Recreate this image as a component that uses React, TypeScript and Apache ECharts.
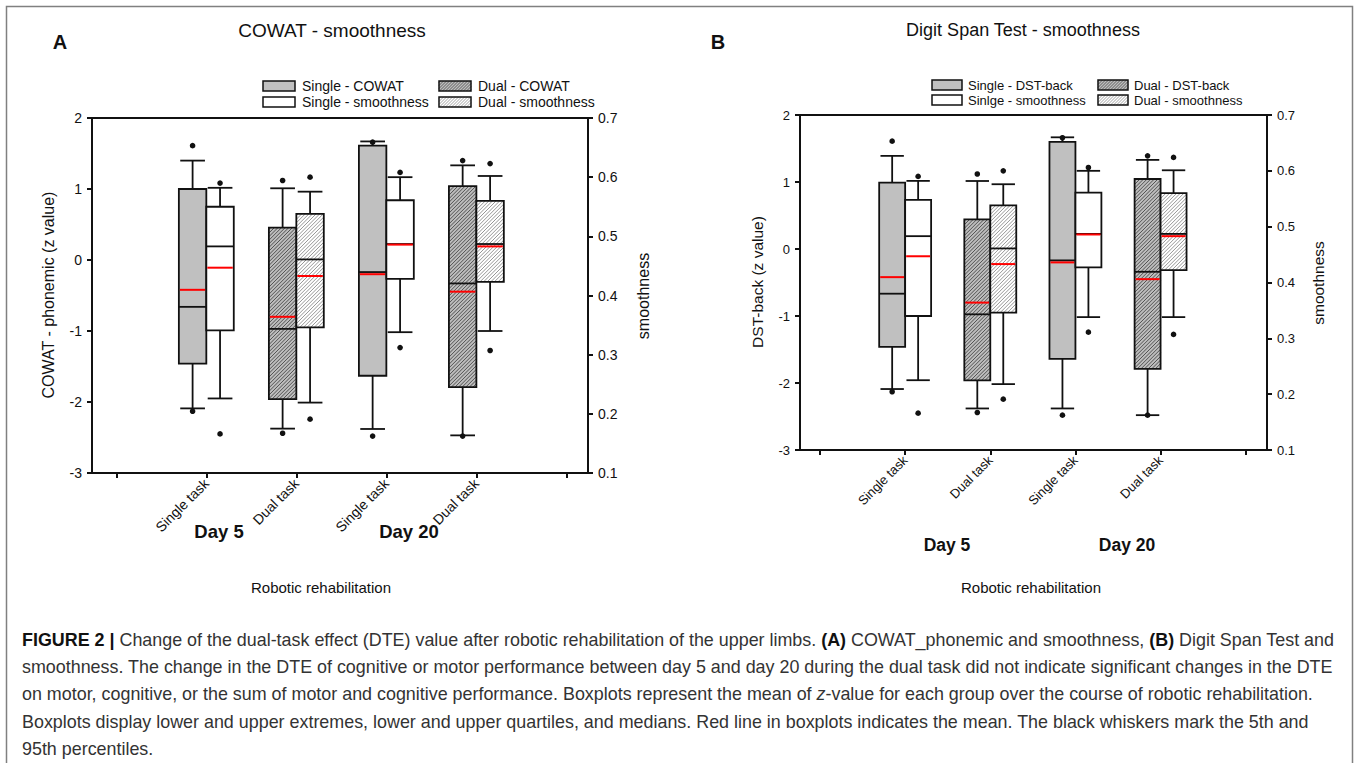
import React, { useEffect, useRef } from "react";
import * as echarts from "echarts";

// ---------- data ----------
const taskLabels = ["Single task", "Dual task", "Single task", "Dual task"];
const dayLabels = ["Day 5", "Day 20"];
const titlesAB = ["COWAT - smoothness", "Digit Span Test - smoothness"];
const leftAxisNames = ["COWAT - phonemic (z value)", "DST-back (z value)"];
const rightAxisName = "smoothness";
const xAxisName = "Robotic rehabilitation";
const legendA = ["Single - COWAT", "Single - smoothness", "Dual - COWAT", "Dual - smoothness"];
const legendB = ["Single - DST-back", "Sinlge - smoothness", "Dual - DST-back", "Dual - smoothness"];

// each row: [whiskerLow, q1, median, q3, whiskerHigh, mean, outlierLow, outlierHigh]; rows = Day 5, Day 20
const A_singleCowat = [
  [-2.09, -1.46, -0.66, 1.0, 1.4, -0.42, -2.13, 1.61],
  [-2.38, -1.63, -0.17, 1.61, 1.67, -0.2, -2.48, 1.66],
];
const A_singleSmooth = [
  [0.226, 0.341, 0.483, 0.55, 0.582, 0.447, 0.166, 0.59],
  [0.338, 0.428, 0.487, 0.561, 0.6, 0.486, 0.312, 0.608],
];
const A_dualCowat = [
  [-2.375, -1.96, -0.97, 0.455, 1.01, -0.8, -2.44, 1.12],
  [-2.47, -1.79, -0.33, 1.04, 1.333, -0.446, -2.48, 1.4],
];
const A_dualSmooth = [
  [0.219, 0.346, 0.461, 0.538, 0.5755, 0.433, 0.191, 0.6],
  [0.34, 0.423, 0.487, 0.56, 0.602, 0.483, 0.307, 0.623],
];

const B_singleDst = [
  [-2.09, -1.46, -0.667, 0.99, 1.39, -0.42, -2.13, 1.61],
  [-2.38, -1.64, -0.17, 1.6, 1.667, -0.2, -2.48, 1.66],
];
const B_singleSmooth = [
  [0.225, 0.34, 0.483, 0.548, 0.582, 0.447, 0.166, 0.59],
  [0.338, 0.427, 0.487, 0.561, 0.6, 0.486, 0.311, 0.606],
];
const B_dualDst = [
  [-2.38, -1.96, -0.975, 0.443, 1.015, -0.8, -2.44, 1.12],
  [-2.48, -1.79, -0.34, 1.045, 1.33, -0.45, -2.48, 1.39],
];
const B_dualSmooth = [
  [0.218, 0.346, 0.461, 0.538, 0.576, 0.433, 0.191, 0.6],
  [0.338, 0.422, 0.487, 0.56, 0.601, 0.483, 0.307, 0.624],
];

const captionLines = [
  "{b|FIGURE 2 |} Change of the dual-task effect (DTE) value after robotic rehabilitation of the upper limbs. {b|(A)} COWAT_phonemic and smoothness, {b|(B)} Digit Span Test and",
  "smoothness. The change in the DTE of cognitive or motor performance between day 5 and day 20 during the dual task did not indicate significant changes in the DTE",
  "on motor, cognitive, or the sum of motor and cognitive performance. Boxplots represent the mean of {i|z}-value for each group over the course of robotic rehabilitation.",
  "Boxplots display lower and upper extremes, lower and upper quartiles, and medians. Red line in boxplots indicates the mean. The black whiskers mark the 5th and",
  "95th percentiles.",
];

// ---------- styling ----------
const FONT = "'Liberation Sans', Arial, Helvetica, sans-serif";
const INK = "#111";
const BOX_W = 0.305;
const STY = {
  singleCog: { fill: "#c0c0c0", hatch: null as string | null },
  singleSmooth: { fill: "#ffffff", hatch: null as string | null },
  dualCog: { fill: "#bdbdbd", hatch: "#454545" },
  dualSmooth: { fill: "#ffffff", hatch: "#8a8a8a" },
};

const singleX = taskLabels.map((t, i) => (t === "Single task" ? i + 1 : -1)).filter((v) => v > 0);
const dualX = taskLabels.map((t, i) => (t === "Dual task" ? i + 1 : -1)).filter((v) => v > 0);

function hatch(x0: number, y0: number, x1: number, y1: number, step: number, color: string, lw: number) {
  const out: any[] = [];
  for (let c = x0 + y0 + step / 2; c < x1 + y1; c += step) {
    const xa = Math.max(x0, c - y1);
    const xb = Math.min(x1, c - y0);
    if (xb - xa < 0.3) continue;
    out.push({
      type: "line",
      silent: true,
      shape: { x1: xa, y1: c - xa, x2: xb, y2: c - xb },
      style: { stroke: color, lineWidth: lw },
    });
  }
  return out;
}

function boxSeries(name: string, stats: number[][], xs: number[], xAxisIndex: number, yAxisIndex: number, side: number, sty: { fill: string; hatch: string | null }) {
  return {
    type: "custom",
    name,
    coordinateSystem: "cartesian2d",
    xAxisIndex,
    yAxisIndex,
    encode: { x: 0, y: [1, 2, 3, 4, 5, 6, 7, 8] },
    data: stats.map((s, k) => [xs[k], ...s]),
    renderItem: (params: any, api: any) => {
      const xv = api.value(0);
      const P = (i: number) => api.coord([xv, api.value(i)]);
      const cx = P(3)[0];
      const w = api.size([BOX_W, 0])[0];
      const x0 = side < 0 ? cx - w : cx;
      const x1 = x0 + w;
      const mx = (x0 + x1) / 2;
      const [wl, q1, med, q3, wh, mean, ol, oh] = [1, 2, 3, 4, 5, 6, 7, 8].map((i) => P(i)[1]);
      const cap = w * 0.45;
      const k = { stroke: INK, lineWidth: 1.8 };
      const children: any[] = [
        { type: "line", shape: { x1: mx, y1: q3, x2: mx, y2: wh }, style: { ...k } },
        { type: "line", shape: { x1: mx, y1: q1, x2: mx, y2: wl }, style: { ...k } },
        { type: "line", shape: { x1: mx - cap, y1: wh, x2: mx + cap, y2: wh }, style: { ...k } },
        { type: "line", shape: { x1: mx - cap, y1: wl, x2: mx + cap, y2: wl }, style: { ...k } },
        { type: "rect", shape: { x: x0, y: q3, width: w, height: q1 - q3 }, style: { fill: sty.fill } },
        ...(sty.hatch ? hatch(x0, q3, x1, q1, 3.6, sty.hatch, 0.9) : []),
        { type: "rect", shape: { x: x0, y: q3, width: w, height: q1 - q3 }, style: { fill: "none", stroke: INK, lineWidth: 1.8 } },
        { type: "line", shape: { x1: x0, y1: med, x2: x1, y2: med }, style: { ...k } },
        { type: "line", shape: { x1: x0 + 1, y1: mean, x2: x1 - 1, y2: mean }, style: { stroke: "#ff0000", lineWidth: 2 } },
        { type: "circle", shape: { cx: mx, cy: ol, r: 2.8 }, style: { fill: INK } },
        { type: "circle", shape: { cx: mx, cy: oh, r: 2.8 }, style: { fill: INK } },
      ];
      return { type: "group", children };
    },
  };
}

function legend(x0: number, y0: number, col2: number, sw: number, sh: number, rowGap: number, tGap: number, fs: number, labels: string[]) {
  const stys = [STY.singleCog, STY.singleSmooth, STY.dualCog, STY.dualSmooth];
  const out: any[] = [];
  stys.forEach((s, i) => {
    const x = i < 2 ? x0 : col2;
    const y = y0 + (i % 2) * rowGap;
    out.push({ type: "rect", shape: { x, y, width: sw, height: sh }, style: { fill: s.fill } });
    if (s.hatch) out.push(...hatch(x, y, x + sw, y + sh, 3, s.hatch, 0.8));
    out.push({ type: "rect", shape: { x, y, width: sw, height: sh }, style: { fill: "none", stroke: INK, lineWidth: 1.5 } });
    out.push({
      type: "text",
      x: x + sw + tGap,
      y: y + sh / 2,
      style: { text: labels[i], fontSize: fs, fontFamily: FONT, fill: INK, align: "left", verticalAlign: "middle" },
    });
  });
  return out;
}

function txt(x: number, y: number, text: string, fs: number, opts: any = {}) {
  return {
    type: "text",
    x,
    y,
    rotation: opts.rotation || 0,
    style: {
      text,
      fontSize: fs,
      fontFamily: FONT,
      fontWeight: opts.bold ? "bold" : "normal",
      fill: opts.fill || INK,
      align: opts.align || "center",
      verticalAlign: "middle",
    },
  };
}

const panels = [
  { grid: { left: 92, top: 118, width: 496, height: 355 }, xMin: -0.27, xMax: 5.24, fs: 14 },
  { grid: { left: 800, top: 115, width: 467, height: 335 }, xMin: -0.235, xMax: 5.25, fs: 13 },
];

function buildOption() {
  const axisLineStyle = { color: INK, width: 2 };
  const xAxis = panels.map((p, i) => ({
    type: "value",
    gridIndex: i,
    min: p.xMin,
    max: p.xMax,
    axisLine: { show: true, onZero: false, lineStyle: axisLineStyle },
    axisTick: { show: true, customValues: [0, 1, 2, 3, 4, 5], length: 5, lineStyle: axisLineStyle },
    axisLabel: {
      customValues: [1, 2, 3, 4],
      formatter: (v: number) => taskLabels[Math.round(v) - 1] || "",
      rotate: 45,
      fontSize: p.fs,
      fontFamily: FONT,
      color: INK,
      margin: 8,
    },
    splitLine: { show: false },
  }));
  const yAxis: any[] = [];
  panels.forEach((p, i) => {
    yAxis.push({
      type: "value",
      gridIndex: i,
      position: "left",
      min: -3,
      max: 2,
      interval: 1,
      axisLine: { show: true, onZero: false, lineStyle: axisLineStyle },
      axisTick: { show: true, length: 5, lineStyle: axisLineStyle },
      axisLabel: { fontSize: p.fs, fontFamily: FONT, color: INK, margin: 10 },
      splitLine: { show: false },
    });
    yAxis.push({
      type: "value",
      gridIndex: i,
      position: "right",
      min: 0.1,
      max: 0.7,
      interval: 0.1,
      axisLine: { show: true, onZero: false, lineStyle: axisLineStyle },
      axisTick: { show: true, length: 5, lineStyle: axisLineStyle },
      axisLabel: { fontSize: p.fs, fontFamily: FONT, color: INK, margin: 10, formatter: (v: number) => v.toFixed(1) },
      splitLine: { show: false },
    });
  });

  const series = [
    boxSeries(legendA[0], A_singleCowat, singleX, 0, 0, -1, STY.singleCog),
    boxSeries(legendA[1], A_singleSmooth, singleX, 0, 1, 1, STY.singleSmooth),
    boxSeries(legendA[2], A_dualCowat, dualX, 0, 0, -1, STY.dualCog),
    boxSeries(legendA[3], A_dualSmooth, dualX, 0, 1, 1, STY.dualSmooth),
    boxSeries(legendB[0], B_singleDst, singleX, 1, 2, -1, STY.singleCog),
    boxSeries(legendB[1], B_singleSmooth, singleX, 1, 3, 1, STY.singleSmooth),
    boxSeries(legendB[2], B_dualDst, dualX, 1, 2, -1, STY.dualCog),
    boxSeries(legendB[3], B_dualSmooth, dualX, 1, 3, 1, STY.dualSmooth),
  ];

  const capFs = 17.9;
  const rich = {
    b: { fontWeight: "bold", fontSize: capFs, fontFamily: FONT, fill: "#111" },
    i: { fontStyle: "italic", fontSize: capFs, fontFamily: FONT, fill: "#333" },
  };
  const caption = captionLines.map((line, i) => ({
    type: "text",
    x: 22,
    y: 640 + i * 27.2,
    style: { text: line, rich, fontSize: capFs, fontFamily: FONT, fill: "#333", align: "left", verticalAlign: "middle" },
  }));

  const graphic: any[] = [
    { type: "rect", shape: { x: 6.5, y: 6.5, width: 1346, height: 820 }, style: { fill: "none", stroke: "#808080", lineWidth: 1.5 } },
    txt(60, 42, "A", 20, { bold: true }),
    txt(718, 42, "B", 20, { bold: true }),
    txt(332, 30, titlesAB[0], 19),
    txt(1023, 30, titlesAB[1], 18),
    ...legend(263, 81, 439, 32, 10, 16, 7, 14, legendA),
    ...legend(932, 80, 1098, 30, 10, 15, 6, 13, legendB),
    txt(48, 295, leftAxisNames[0], 16, { rotation: Math.PI / 2 }),
    txt(643, 296, rightAxisName, 16, { rotation: Math.PI / 2 }),
    txt(757, 282, leftAxisNames[1], 15.5, { rotation: Math.PI / 2 }),
    txt(1318, 283, rightAxisName, 15.5, { rotation: Math.PI / 2 }),
    txt(219, 531, dayLabels[0], 18.5, { bold: true }),
    txt(409, 531, dayLabels[1], 18.5, { bold: true }),
    txt(947, 545, dayLabels[0], 17.5, { bold: true }),
    txt(1127, 545, dayLabels[1], 17.5, { bold: true }),
    txt(321, 587, xAxisName, 15),
    txt(1031, 587, xAxisName, 15),
    ...caption,
  ];

  return {
    animation: false,
    backgroundColor: "#ffffff",
    textStyle: { fontFamily: FONT },
    grid: panels.map((p) => ({ ...p.grid, show: true, borderColor: INK, borderWidth: 2, backgroundColor: "transparent" })),
    xAxis,
    yAxis,
    series,
    graphic,
  };
}

export default function App() {
  const ref = useRef<HTMLDivElement>(null);
  useEffect(() => {
    if (!ref.current) return;
    const chart = echarts.init(ref.current, null, { renderer: "svg" });
    chart.setOption(buildOption() as any);
    return () => chart.dispose();
  }, []);
  return (
    <div
      ref={ref}
      style={{ position: "fixed", left: 0, top: 0, width: 1357, height: 763, background: "#fff" }}
    />
  );
}
